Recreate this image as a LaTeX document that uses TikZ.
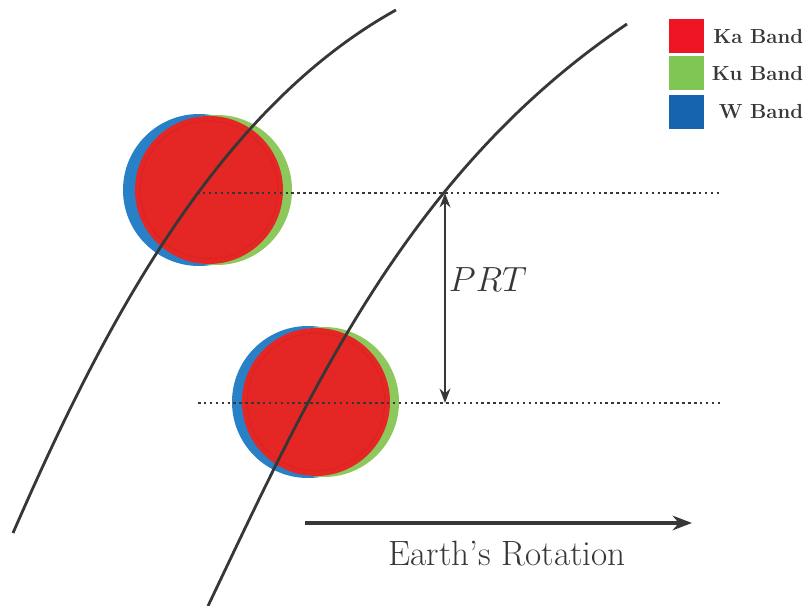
\documentclass[tikz,border=0pt]{standalone}
\usepackage{amsmath}
\usepackage{tikz}
\usetikzlibrary{positioning, calc, arrows.meta}

\definecolor{kaRed}{RGB}{238,20,36}
\definecolor{kuGreen}{RGB}{128,198,84}
\definecolor{wBlue}{RGB}{22,100,176}
\definecolor{spotRed}{RGB}{228,38,36}
\definecolor{spotGreen}{RGB}{140,200,92}
\definecolor{spotBlue}{RGB}{40,128,198}
\definecolor{inkGray}{RGB}{55,55,55}

\begin{document}
\begin{tikzpicture}[>=Stealth, x=1cm, y=1cm]
    \useasboundingbox (0,0) rectangle (20.225,15.15);

    % Footprints (first pulse)
    \fill[spotBlue]  (4.975,10.4) circle (1.9);
    \fill[spotGreen] (5.425,10.4) circle (1.875);
    \fill[spotRed]   (5.225,10.4) circle (1.85);
    \draw[spotRed!85!black, opacity=0.25, line width=0.8pt] (5.225,10.4) circle (1.72);

    % Footprints (second pulse)
    \fill[spotBlue]  (7.7,5.1) circle (1.9);
    \fill[spotGreen] (8.1,5.1) circle (1.875);
    \fill[spotRed]   (7.9,5.1) circle (1.85);
    \draw[spotRed!85!black, opacity=0.25, line width=0.8pt] (7.9,5.1) circle (1.72);

    % Orbit tracks
    \draw[inkGray, line width=2pt] (9.9,14.9) .. controls (5.3,12.35) and (2.45,6.7) .. (0.325,1.825);
    \draw[inkGray, line width=2pt] (15.675,14.55) .. controls (10.2,10.86) and (7.75,5.35) .. (5.2,0);

    % Pulse reference levels
    \coordinate (l1) at (4.925,10.325);
    \coordinate (r1) at (18.05,10.325);
    \coordinate (l2) at (4.95,5.075);
    \coordinate (r2) at (18.05,5.075);
    \draw[inkGray, line width=1.8pt, dash pattern=on 1.8pt off 2.4pt] (l1) -- (r1);
    \draw[inkGray, line width=1.8pt, dash pattern=on 1.8pt off 2.4pt] (l2) -- (r2);

    % PRT interval
    \coordinate (ptop) at (11.125,10.325);
    \coordinate (pbot) at (11.125,5.075);
    \draw[<->, inkGray, line width=1.6pt] (ptop) -- (pbot);
    \node[inkGray] (prt) at (12.2,8.15) {\fontsize{23}{27}\selectfont $PRT$};

    % Earth's rotation
    \coordinate (rs) at (7.625,2.075);
    \coordinate (re) at (17.3,2.075);
    \draw[->, inkGray, line width=2.4pt] (rs) -- (re);
    \node[inkGray] (rot) at (12.675,1.3) {\fontsize{25}{30}\selectfont Earth’s Rotation};

    % Legend
    \fill[kaRed]   (16.725,13.825) rectangle (17.6,14.675);
    \fill[kuGreen] (16.725,12.9) rectangle (17.6,13.75);
    \fill[wBlue]   (16.725,11.925) rectangle (17.6,12.775);
    \node[anchor=east, inkGray] (ka) at (20.2,14.25) {\fontsize{14.5}{17}\selectfont\bfseries Ka Band};
    \node[anchor=east, inkGray] (ku) at (20.2,13.325) {\fontsize{14.5}{17}\selectfont\bfseries Ku Band};
    \node[anchor=east, inkGray] (w)  at (20.2,12.35) {\fontsize{14.5}{17}\selectfont\bfseries W Band};
\end{tikzpicture}
\end{document}
